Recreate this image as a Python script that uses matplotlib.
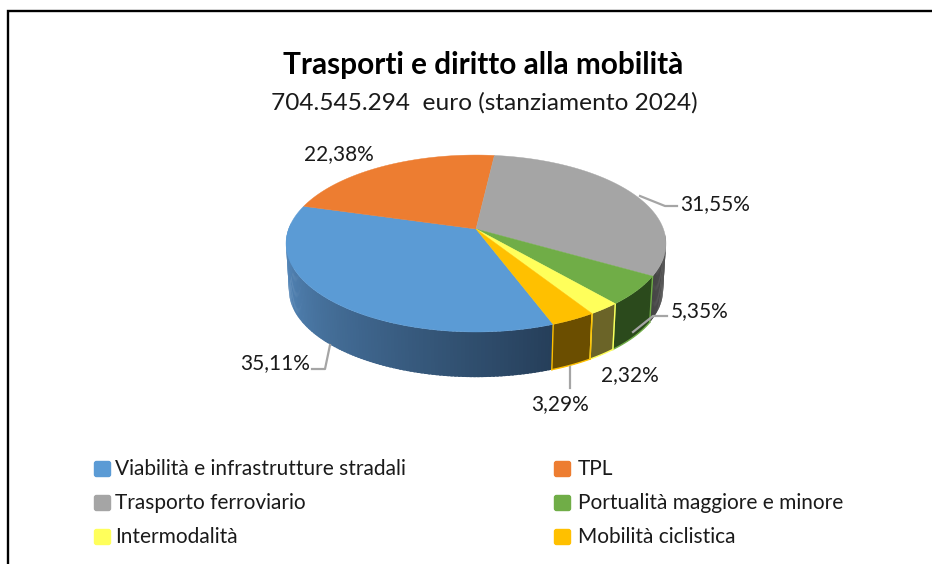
import numpy as np
import matplotlib
matplotlib.use("Agg")
import matplotlib.pyplot as plt
from matplotlib.colors import to_rgb
from matplotlib.patches import FancyBboxPatch

plt.rcParams['font.family'] = ['Lato', 'DejaVu Sans']

categories = ["Viabilità e infrastrutture stradali", "TPL", "Trasporto ferroviario",
              "Portualità maggiore e minore", "Intermodalità", "Mobilità ciclistica"]
values = [35.11, 22.38, 31.55, 5.35, 2.32, 3.29]
labels = ["35,11%", "22,38%", "31,55%", "5,35%", "2,32%", "3,29%"]
title = "Trasporti e diritto alla mobilità"
subtitle = "704.545.294  euro (stanziamento 2024)"

colors = ["#5b9bd5", "#ed7d31", "#a5a5a5", "#70ad47", "#ffff5b", "#ffc000"]
wall_left = ["#5b92c8", "#8a4a1d", "#454545", "#2b4a1c", "#6b6428", "#6b4e00"]
wall_right = ["#263f5a", "#8a4a1d", "#555555", "#2b4a1c", "#6b6428", "#6b4e00"]
wall_edges = [None, None, None, "#70ad47", "#ffff5b", "#ffc000"]

# pie plane seen in perspective, all in pixels
CX, CY = 476, 229
A, B, K = 187.4, 86.1, 0.164
DEPTH = 47
START = 290.4


def project(t, r=1.0, drop=0.0):
    u, v = r * np.cos(t), r * np.sin(t)
    w = 1 + K * v
    return CX + A * u / w, CY - B * v / w + drop


fig = plt.figure(figsize=(9.32, 5.64), dpi=100)
ax = fig.add_axes([0, 0, 1, 1])
ax.set_xlim(0, 932)
ax.set_ylim(564, 0)
ax.axis("off")

# border, open on the right and at the bottom
ax.plot([7.5, 7.5, 932], [564, 10.5, 10.5], color="black", lw=1.7, solid_joinstyle="miter")

shares = np.array(values) / sum(values) * 360
ends = START - np.cumsum(shares)
starts = ends + shares

# side wall first, only the part facing the viewer
for i in range(len(values)):
    c0, c1 = np.array(to_rgb(wall_left[i])), np.array(to_rgb(wall_right[i]))
    for off in (0, 360):
        lo, hi = max(ends[i], -184 + off), min(starts[i], -4 + off)
        if hi <= lo:
            continue
        angs = np.linspace(lo, hi, max(int(hi - lo), 2) + 1)
        for j in range(len(angs) - 1):
            # overlap the next strip a little so no seams show
            t = np.radians([angs[j], min(angs[j + 1] + 0.6, hi)])
            xt, yt = project(t)
            xb, yb = project(t, r=0.985, drop=DEPTH)
            f = j / max(len(angs) - 2, 1)
            ax.fill(np.r_[xt, xb[::-1]], np.r_[yt, yb[::-1]], color=c0 + (c1 - c0) * f, lw=0, zorder=2)
        if wall_edges[i]:
            xb, yb = project(np.radians(angs), r=0.985, drop=DEPTH)
            ax.plot(xb, yb, color=wall_edges[i], lw=1, zorder=3)
            for e in (angs[0], angs[-1]):
                te = np.radians(e)
                x0, y0 = project(te)
                x1, y1 = project(te, r=0.985, drop=DEPTH)
                ax.plot([x0, x1], [y0, y1], color=wall_edges[i], lw=1, zorder=3)

# top face
for i in range(len(values)):
    t = np.radians(np.linspace(starts[i], ends[i], 120))
    x, y = project(t)
    ax.fill(np.r_[CX, x], np.r_[CY, y], color=colors[i], lw=0.3, zorder=4)

# data labels and leader lines
label_x = [275, 339, 715, 700, 630, 560]
label_y = [363, 154, 204, 311, 375, 404]
leaders = [([330, 325, 312], [345, 369, 369]),
           None,
           ([640, 665, 677], [196, 206, 206]),
           ([633, 653, 667], [332, 316, 316]),
           None,
           ([570, 570], [367, 388])]
for i in range(len(values)):
    ax.text(label_x[i], label_y[i], labels[i], fontsize=15, color="#1a1a1a",
            ha="center", va="center", zorder=6)
    if leaders[i]:
        ax.plot(leaders[i][0], leaders[i][1], color="#a5a5a5", lw=1.6, zorder=5)

ax.text(483.5, 65, title, fontsize=21.4, fontweight="bold", color="black", ha="center", va="center")
ax.text(484, 103, subtitle, fontsize=17.6, color="#1a1a1a", ha="center", va="center")

# legend
leg_x = [94, 554]
leg_y = [469, 503, 537]
text_x = [115, 578]
for i, name in enumerate(categories):
    x = leg_x[i % 2]
    y = leg_y[i // 2]
    ax.add_patch(FancyBboxPatch((x + 0.5, y - 7.5), 16, 15, boxstyle="round,pad=0,rounding_size=2",
                                facecolor=colors[i], edgecolor=colors[i], lw=1))
    ax.text(text_x[i % 2], y, name, fontsize=15, color="#1a1a1a", ha="left", va="center")

fig.savefig("out.png", dpi=100)
